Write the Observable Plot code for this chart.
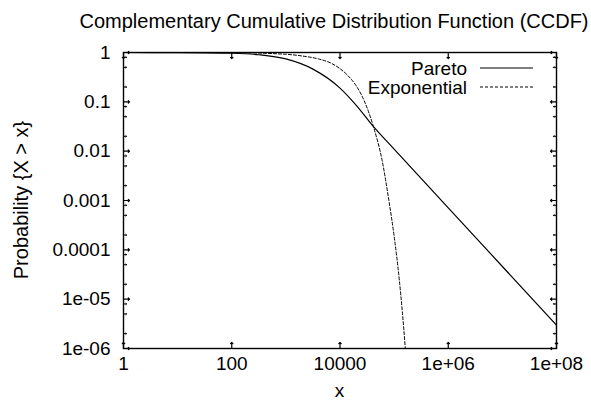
<!DOCTYPE html>
<html>
<head>
<meta charset="utf-8">
<script src="https://cdn.jsdelivr.net/npm/d3@7"></script>
<script src="https://cdn.jsdelivr.net/npm/@observablehq/plot@0.6"></script>
<style>
  body { margin: 0; background: #fff; }
  #chart svg { font-family: "Liberation Sans", Arial, Helvetica, sans-serif; }
</style>
</head>
<body>
<div id="chart"></div>
<script>
// Pareto (heavy-tailed) CCDF, sampled along the curve
const paretoX = [1, 10, 100, 316, 1000, 3162, 10000, 20000, 42000, 1e5, 1e6, 1e7, 1e8];
const paretoY = [1, 0.995, 0.965, 0.90, 0.74, 0.46, 0.19, 0.085, 0.031, 0.011, 7.1e-4, 4.6e-5, 2.96e-6];

// Exponential CCDF, sampled along the curve
const expX = [1, 100, 1000, 2000, 4000, 7000, 10000, 14000, 20000, 28000, 42000, 60000, 80000, 100000, 125000, 160000, 170000];
const expY = [1, 0.995, 0.92, 0.85, 0.74, 0.60, 0.47, 0.34, 0.21, 0.105, 0.03, 0.0065, 0.001, 1.9e-4, 2.4e-5, 1.1e-6, 4.5e-7];

const seriesNames = ["Pareto", "Exponential"];

const xTicks = [1, 100, 1e4, 1e6, 1e8];
const xTickLabels = ["1", "100", "10000", "1e+06", "1e+08"];
const yTicks = [1, 0.1, 0.01, 0.001, 0.0001, 1e-5, 1e-6];
const yTickLabels = ["1", "0.1", "0.01", "0.001", "0.0001", "1e-05", "1e-06"];
const yMinorSteps = [2, 5, 8];

const titleText = "Complementary Cumulative Distribution Function (CCDF)";
const xLabel = "x";
const yLabel = "Probability {X > x}";

const pareto = paretoX.map((x, i) => ({x, y: paretoY[i]}));
const expo = expX.map((x, i) => ({x, y: expY[i]}));
const xFmt = new Map(xTicks.map((t, i) => [t, xTickLabels[i]]));
const yFmt = new Map(yTicks.map((t, i) => [t, yTickLabels[i]]));
const yMinor = yTicks.slice(1).flatMap(d => yMinorSteps.map(m => d * m));

const W = 591, H = 406;
const mL = 123, mR = 35, mT = 52, mB = 58;
const fs = 19;

const chart = Plot.plot({
  width: W,
  height: H,
  marginLeft: mL,
  marginRight: mR,
  marginTop: mT,
  marginBottom: mB,
  style: {background: "#fff", color: "#000", fontSize: fs + "px"},
  x: {type: "log", domain: [1, 1e8]},
  y: {type: "log", domain: [1e-6, 1]},
  marks: [
    // tick labels
    Plot.axisX(xTicks, {anchor: "bottom", tickSize: 0, tickPadding: 8, fontSize: fs, tickFormat: d => xFmt.get(d), label: null}),
    Plot.axisY(yTicks, {anchor: "left", tickSize: 0, tickPadding: 13, fontSize: fs, tickFormat: d => yFmt.get(d), label: null}),
    // inward tick marks on all four sides
    Plot.vector(xTicks, {x: d => d, frameAnchor: "bottom", length: 6, rotate: 0, anchor: "start", stroke: "#000", strokeWidth: 1.2}),
    Plot.vector(xTicks, {x: d => d, frameAnchor: "top", length: 6, rotate: 180, anchor: "start", stroke: "#000", strokeWidth: 1.2}),
    Plot.vector(yTicks, {y: d => d, frameAnchor: "left", length: 6, rotate: 90, anchor: "start", stroke: "#000", strokeWidth: 1.2}),
    Plot.vector(yTicks, {y: d => d, frameAnchor: "right", length: 6, rotate: -90, anchor: "start", stroke: "#000", strokeWidth: 1.2}),
    Plot.vector(yMinor, {y: d => d, frameAnchor: "left", length: 3, rotate: 90, anchor: "start", stroke: "#000", strokeWidth: 1}),
    Plot.vector(yMinor, {y: d => d, frameAnchor: "right", length: 3, rotate: -90, anchor: "start", stroke: "#000", strokeWidth: 1}),
    // curves
    Plot.line(pareto, {x: "x", y: "y", curve: "monotone-x", stroke: "#000", strokeWidth: 1.2, clip: true}),
    Plot.line(expo, {x: "x", y: "y", curve: "monotone-x", stroke: "#000", strokeWidth: 1, strokeDasharray: "3,2", clip: true}),
    Plot.frame({stroke: "#000", strokeWidth: 1.4})
  ]
});

document.getElementById("chart").appendChild(chart);

// title, axis labels and legend
const svg = d3.select(chart);
const plotW = W - mL - mR, plotH = H - mT - mB;

svg.append("text")
  .attr("x", 334).attr("y", 28)
  .attr("text-anchor", "middle")
  .attr("font-size", 20)
  .attr("fill", "#000")
  .text(titleText);

svg.append("text")
  .attr("x", mL + plotW / 2).attr("y", 397)
  .attr("text-anchor", "middle")
  .attr("font-size", fs)
  .attr("fill", "#000")
  .text(xLabel);

svg.append("text")
  .attr("transform", `translate(28,${mT + plotH / 2}) rotate(-90)`)
  .attr("text-anchor", "middle")
  .attr("font-size", 20)
  .attr("fill", "#000")
  .text(yLabel);

const legend = svg.append("g");
const legendRows = [
  {name: seriesNames[0], y: 68, dash: null, width: 1.2},
  {name: seriesNames[1], y: 87, dash: "3,2", width: 1}
];
legendRows.forEach(r => {
  legend.append("text")
    .attr("x", 467).attr("y", r.y)
    .attr("dy", "0.35em")
    .attr("text-anchor", "end")
    .attr("font-size", fs)
    .attr("fill", "#000")
    .text(r.name);
  legend.append("line")
    .attr("x1", 480).attr("x2", 533)
    .attr("y1", r.y).attr("y2", r.y)
    .attr("stroke", "#000")
    .attr("stroke-width", r.width)
    .attr("stroke-dasharray", r.dash);
});
</script>
</body>
</html>
